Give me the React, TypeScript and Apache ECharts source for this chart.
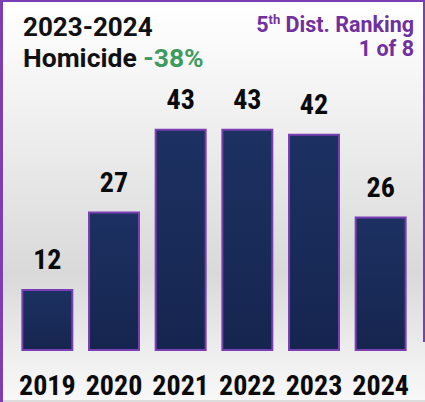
import React, { useEffect, useRef } from "react";
import * as echarts from "echarts";

const categories = ["2019", "2020", "2021", "2022", "2023", "2024"];
const homicides = [12, 27, 43, 43, 42, 26];
const titleYears = "2023-2024";
const titleCrime = "Homicide";
const changeText = "-38%";
const rankLine1 = "5";
const rankLine1Sup = "th";
const rankLine1Rest = " Dist. Ranking";
const rankLine2 = "1 of 8";

const CONDENSED = "Roboto; font-stretch: condensed";

export default function App() {
  const ref = useRef<HTMLDivElement>(null);
  useEffect(() => {
    document.body.style.margin = "0";
    const chart = echarts.init(ref.current!, null, { renderer: "svg" });
    chart.setOption({
      animation: false,
      graphic: [
        {
          type: "rect",
          z: -10,
          silent: true,
          shape: { x: 0, y: 0, width: 425, height: 402 },
          style: {
            fill: new echarts.graphic.LinearGradient(0, 0, 0, 1, [
              { offset: 0, color: "#ffffff" },
              { offset: 0.1, color: "#fbfbfb" },
              { offset: 0.68, color: "#d9d9d9" },
              { offset: 0.9, color: "#f0f0f0" },
              { offset: 1, color: "#f8f8f8" },
            ]),
          },
        },
        { type: "rect", z: 10, shape: { x: 0, y: 0, width: 3, height: 402 }, style: { fill: "#7b3fb5" } },
        { type: "rect", z: 10, shape: { x: 0, y: 0, width: 425, height: 2 }, style: { fill: "#7b3fb5" } },
        { type: "rect", z: 10, shape: { x: 423, y: 0, width: 2, height: 342 }, style: { fill: "#7b3fb5" } },
        { type: "rect", z: 10, shape: { x: 3, y: 400, width: 422, height: 2 }, style: { fill: "#dcdcdc" } },
        {
          type: "text",
          left: 23,
          top: 14,
          style: {
            text: titleYears,
            font: "bold 26px Roboto, sans-serif",
            fill: "#111111",
          },
        },
        {
          type: "text",
          left: 23,
          top: 44,
          style: {
            text: "{a|" + titleCrime + " }{b|" + changeText + "}",
            rich: {
              a: { font: "bold 26.5px Roboto, sans-serif", fill: "#111111" },
              b: { font: "bold 26.5px Roboto, sans-serif", fill: "#3d9b5f" },
            },
          },
        },
        {
          type: "text",
          right: 11,
          top: 13,
          style: {
            text: "{s|" + rankLine1 + "}{u|" + rankLine1Sup + "}{s|" + rankLine1Rest + "}\n{s|" + rankLine2 + "}",
            align: "right",
            rich: {
              s: { font: "bold 21.5px Roboto, sans-serif", fill: "#7030a0", lineHeight: 23.5, align: "right" },
              u: { font: "bold 13px Roboto, sans-serif", fill: "#7030a0", lineHeight: 23.5, verticalAlign: "top", padding: [0, 0, 8, 0] },
            },
          },
        },
      ],
      grid: { left: 14, right: 11, top: 92.5, bottom: 51, containLabel: false },
      xAxis: {
        type: "category",
        data: categories,
        axisLine: { show: false },
        axisTick: { show: false },
        axisLabel: {
          interval: 0,
          margin: 20,
          fontSize: 28,
          lineHeight: 28,
          fontWeight: "bold",
          fontFamily: CONDENSED,
          color: "#0a0a0a",
        },
      },
      yAxis: { type: "value", min: 0, max: 50, show: false, splitLine: { show: false } },
      series: [
        {
          type: "bar",
          data: homicides,
          barCategoryGap: "22%",
          itemStyle: {
            color: new echarts.graphic.LinearGradient(0, 0, 0, 1, [
              { offset: 0, color: "#1c3162" },
              { offset: 1, color: "#16254f" },
            ]),
            borderColor: "#7b3fb5",
            borderWidth: 2,
          },
          label: {
            show: true,
            position: "top",
            distance: 15,
            fontSize: 28,
            lineHeight: 28,
            fontWeight: "bold",
            fontFamily: CONDENSED,
            color: "#0a0a0a",
          },
        },
      ],
    });
    return () => chart.dispose();
  }, []);
  return <div ref={ref} style={{ width: 425, height: 402 }} />;
}
